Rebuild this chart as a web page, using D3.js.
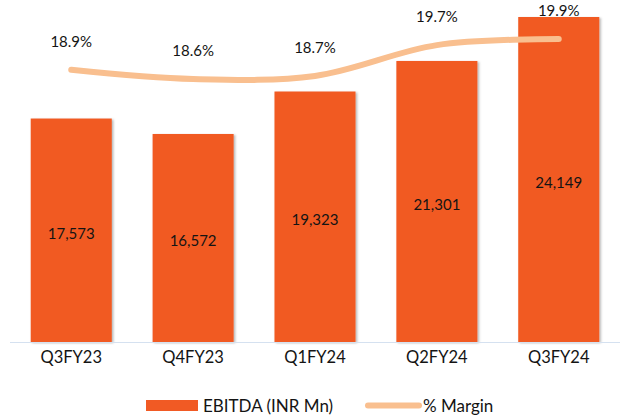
<!DOCTYPE html>
<html>
<head>
<meta charset="utf-8">
<script src="https://cdn.jsdelivr.net/npm/d3@7"></script>
<style>
  body { margin: 0; background: #fff; }
  text { font-family: Lato, 'Open Sans', sans-serif; fill: #141414; }
</style>
</head>
<body>
<div id="chart-area"></div>
<script>
// chart data
var quarters = ['Q3FY23', 'Q4FY23', 'Q1FY24', 'Q2FY24', 'Q3FY24'];
var ebitda = [17573, 16572, 19323, 21301, 24149];
var margin_pct = [18.9, 18.6, 18.7, 19.7, 19.9];
var legendLabels = ['EBITDA (INR Mn)', '% Margin'];

var W = 623, H = 418;
var barColor = '#F15A24', lineColor = '#F9BF8F';

var svg = d3.select('#chart-area').append('svg')
  .attr('width', W).attr('height', H);

var defs = svg.append('defs');
var f = defs.append('filter').attr('id', 'shadow')
  .attr('x', '-10%').attr('y', '-10%').attr('width', '130%').attr('height', '130%');
f.append('feDropShadow').attr('dx', 1.5).attr('dy', 1).attr('stdDeviation', 1.2)
  .attr('flood-color', '#000').attr('flood-opacity', 0.3);

var x = d3.scaleBand().domain(quarters).range([10, 620]).paddingInner(0.335).paddingOuter(0.17);
var y = d3.scaleLinear().domain([3100, 25250]).range([342, 0]);
var y2 = d3.scaleLinear().domain([10.06, 21.165]).range([342, 0]);

// bars
svg.append('g').selectAll('rect')
  .data(ebitda)
  .enter().append('rect')
    .attr('x', (d, i) => x(quarters[i]))
    .attr('y', d => y(d))
    .attr('width', x.bandwidth())
    .attr('height', d => y(3100) - y(d))
    .attr('fill', barColor)
    .attr('filter', 'url(#shadow)');

// baseline
svg.append('line')
  .attr('x1', 10).attr('x2', 620)
  .attr('y1', 342.5).attr('y2', 342.5)
  .attr('stroke', '#D5E1F0').attr('stroke-width', 1.2);

// bar value labels
var fmt = d3.format(',');
svg.append('g').selectAll('text')
  .data(ebitda)
  .enter().append('text')
    .attr('x', (d, i) => x(quarters[i]) + x.bandwidth() / 2)
    .attr('y', d => (y(d) + y(3100)) / 2 + 3)
    .attr('dy', '0.35em')
    .attr('text-anchor', 'middle')
    .attr('font-size', '15px')
    .text(d => fmt(d));

// category labels
svg.append('g').selectAll('text')
  .data(quarters)
  .enter().append('text')
    .attr('x', d => x(d) + x.bandwidth() / 2)
    .attr('y', 357)
    .attr('dy', '0.35em')
    .attr('text-anchor', 'middle')
    .attr('font-size', '16.5px')
    .text(d => d);

// margin line
var line = d3.line()
  .x((d, i) => x(quarters[i]) + x.bandwidth() / 2)
  .y(d => y2(d))
  .curve(d3.curveCatmullRom.alpha(0.5));

svg.append('path')
  .datum(margin_pct)
  .attr('d', line)
  .attr('fill', 'none')
  .attr('stroke', lineColor)
  .attr('stroke-width', 6)
  .attr('stroke-linecap', 'round');

// margin labels
svg.append('g').selectAll('text')
  .data(margin_pct)
  .enter().append('text')
    .attr('x', (d, i) => x(quarters[i]) + x.bandwidth() / 2)
    .attr('y', d => y2(d) - 28)
    .attr('dy', '0.35em')
    .attr('text-anchor', 'middle')
    .attr('font-size', '15px')
    .text(d => d.toFixed(1) + '%');

// legend
var lg = svg.append('g');
lg.append('rect')
  .attr('x', 146).attr('y', 400).attr('width', 52).attr('height', 11)
  .attr('fill', barColor);
lg.append('text')
  .attr('x', 203).attr('y', 406).attr('dy', '0.35em')
  .attr('font-size', '17px')
  .text(legendLabels[0]);
lg.append('line')
  .attr('x1', 368).attr('x2', 419).attr('y1', 405.5).attr('y2', 405.5)
  .attr('stroke', lineColor).attr('stroke-width', 6).attr('stroke-linecap', 'round');
lg.append('text')
  .attr('x', 423).attr('y', 406).attr('dy', '0.35em')
  .attr('font-size', '17px')
  .text(legendLabels[1]);
</script>
</body>
</html>
